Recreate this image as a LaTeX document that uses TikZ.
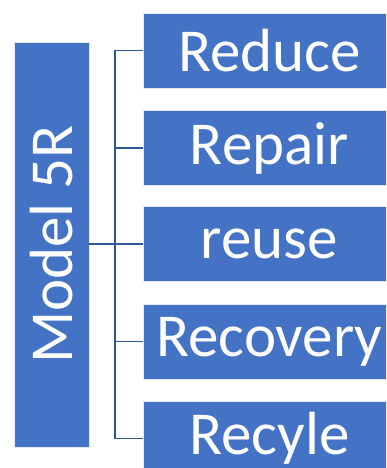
\documentclass[tikz,border=0pt]{standalone}
\usepackage{fontspec}
\setmainfont{Carlito}
\definecolor{boxblue}{HTML}{4472C4}
\definecolor{lineblue}{HTML}{2F5597}
\begin{document}
\begin{tikzpicture}[x=1pt,y=-1pt,
  rbox/.style={fill=boxblue,draw=white!85!boxblue,line width=0.8pt,minimum width=252pt,minimum height=75pt,inner sep=0pt,text=white,font=\fontsize{61}{61}\selectfont,anchor=west},
  conn/.style={draw=lineblue,line width=1.5pt}]
\useasboundingbox (0,0) rectangle (386,468);
\clip (0,0) rectangle (386,468);
\fill[white] (0,0) rectangle (386,468);
\node[fill=boxblue,draw=white!85!boxblue,line width=0.8pt,minimum width=75pt,minimum height=405pt,inner sep=0pt] (m) at (51.5,244.5) {};
\node[rotate=90,text=white,font=\fontsize{61}{61}\selectfont] (mt) at (m.center) {Model 5R};
\node[rbox] (b1) at (143,50.5) {Reduce};
\node[rbox] (b2) at (143,148) {Repair};
\node[rbox] (b3) at (143,244) {reuse};
\node[rbox] (b4) at (143,341.5) {Recovery};
\node[rbox] (b5) at (143,438.5) {Recyle};
\coordinate (tp) at (115,50.5);
\coordinate (bt) at (115,438.5);
\draw[conn] (b1.west) -- (tp) -- (bt) -- (b5.west);
\draw[conn] (m.east |- b3.west) -- (b3.west);
\draw[conn] (b2.west) -- (b2.west -| tp);
\draw[conn] (b4.west) -- (b4.west -| tp);
\end{tikzpicture}
\end{document}
